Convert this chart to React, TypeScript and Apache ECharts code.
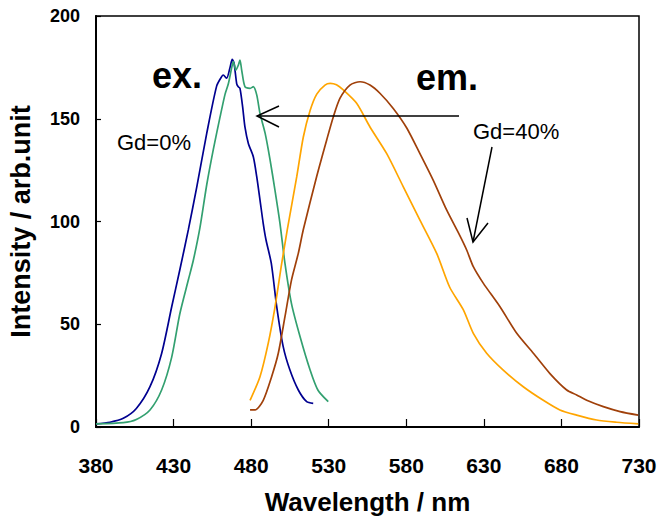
import React, { useEffect, useRef } from "react";
import * as echarts from "echarts";

const xTicks = [380, 430, 480, 530, 580, 630, 680, 730];

const exGd0: number[][] = [
  [380, 1.5], [389, 2.3], [397.6, 4.2], [406, 9], [414.8, 19.6], [422.3, 35.8], [428.8, 58.5],
  [434, 76.4], [439.5, 95.9], [445, 117], [451.4, 143], [457.8, 166], [461, 170.5], [462, 171.3],
  [464.2, 169.7], [466.4, 175], [467.8, 178.9], [469, 177], [470.7, 167], [471.7, 165.6],
  [472.8, 164.8], [474.5, 155.9], [476, 146], [478.2, 138], [481.4, 131.5], [483.6, 121.8],
  [485.7, 110.5], [487.8, 99], [489.6, 91], [493, 79.6], [496.5, 58.5], [500.7, 39], [505, 27.7],
  [510.4, 18], [515.8, 12.3], [520, 11.5],
];

const exGd40: number[][] = [
  [380, 1.5], [397.6, 2.1], [406, 3.7], [414.8, 8.3], [422.3, 18], [428.8, 34], [434, 55],
  [439.5, 71.5], [442.7, 81], [447, 97], [451.4, 118], [455.6, 135], [460, 151], [463.2, 162],
  [465.3, 167], [467.5, 175], [468.5, 177.8], [470.2, 173.7], [471.7, 176], [472.8, 178.6],
  [473.9, 173.7], [476, 165.6], [479.3, 164.8], [481.4, 165.6], [483.6, 161.6], [485.7, 152.6],
  [489, 143], [492.2, 130], [495.4, 115], [498.6, 99], [501.8, 79.6], [506, 60], [511.5, 44],
  [518, 27.7], [523, 18], [529.7, 12.3],
];

const emGd0: number[][] = [
  [479.3, 13], [485.7, 24.5], [491, 40.7], [495.4, 58.5], [499.7, 79.6], [503.3, 96],
  [509.4, 121.8], [513.6, 141], [518, 154], [522.3, 162], [527.6, 166.4], [531, 167.2],
  [535, 166.5], [539.4, 164], [548, 157.5], [556.6, 146], [567.4, 133], [578, 117],
  [588.8, 100.7], [599.6, 84.5], [608, 68], [616.8, 57], [623.2, 45.6], [631.8, 35.9],
  [642.5, 27.7], [655.4, 19.6], [668.3, 13], [679, 8.3], [689.8, 5.8], [702.7, 3.4],
  [715.6, 2.3], [729.5, 1.5],
];

const emGd40: number[][] = [
  [479.3, 8.3], [482.5, 8.3], [487.8, 13], [493.2, 24.5], [497.5, 35.9], [501.8, 53.7],
  [506, 71.5], [510.4, 84.5], [513.6, 96], [522.2, 121.8], [528.7, 139.7], [533, 151],
  [537.3, 160], [543.7, 166.4], [550.2, 168], [556.6, 166.4], [563, 162.4], [571.6, 155],
  [580.3, 145.5], [588.8, 133], [597.4, 120], [606, 105.6], [614.6, 93], [619, 86],
  [623.2, 78], [629.6, 70], [640.4, 58.5], [651.2, 45.6], [661.9, 35.9], [672.6, 26],
  [683.4, 18], [689.8, 15.6], [696.3, 13], [707, 9.9], [717.8, 7.5], [729.5, 5.8],
];

const FONT = "'Liberation Sans', Arial, sans-serif";

export default function App() {
  const ref = useRef<HTMLDivElement>(null);
  useEffect(() => {
    document.body.style.margin = "0";
    const chart = echarts.init(ref.current!, null, { renderer: "svg" });
    const mk = (name: string, data: number[][], color: string) => ({
      name,
      type: "line",
      data,
      showSymbol: false,
      symbol: "none",
      smooth: 0.25,
      lineStyle: { color, width: 1.7 },
      z: 3,
    });
    const arrowStyle = { stroke: "#000", lineWidth: 1.5, fill: null };
    chart.setOption({
      animation: false,
      backgroundColor: "#fff",
      grid: {
        left: 96, right: 20, top: 16, bottom: 90,
        outerBoundsMode: "none",
        containLabel: false,
        show: true, borderColor: "#000", borderWidth: 1.5,
      },
      xAxis: {
        type: "value", min: 380, max: 730,
        name: "Wavelength / nm", nameLocation: "middle", nameGap: 62,
        nameTextStyle: { fontFamily: FONT, fontWeight: "bold", fontSize: 26, color: "#000" },
        axisLine: { lineStyle: { color: "#000", width: 2 } },
        axisTick: { inside: true, length: 8, customValues: xTicks, lineStyle: { color: "#000", width: 1.2 } },
        axisLabel: { customValues: xTicks, margin: 28, fontFamily: FONT, fontWeight: "bold", fontSize: 21, color: "#000" },
        splitLine: { show: false },
      },
      yAxis: {
        type: "value", min: 0, max: 200, interval: 50,
        name: "Intensity / arb.unit", nameLocation: "middle", nameGap: 62,
        nameTextStyle: { fontFamily: FONT, fontWeight: "bold", fontSize: 27, color: "#000" },
        axisLine: { show: true, lineStyle: { color: "#000", width: 2 } },
        axisTick: { show: true, inside: true, length: 5, lineStyle: { color: "#000", width: 1.2 } },
        axisLabel: { margin: 16, fontFamily: FONT, fontWeight: "bold", fontSize: 18, color: "#000" },
        splitLine: { show: false },
      },
      series: [
        mk("ex Gd=0%", exGd0, "#000090"),
        mk("ex Gd=40%", exGd40, "#33A070"),
        mk("em Gd=0%", emGd0, "#FFA500"),
        mk("em Gd=40%", emGd40, "#A0400A"),
      ],
      graphic: [
        { type: "text", x: 177, y: 75, style: { text: "ex.", fontFamily: FONT, fontWeight: "bold", fontSize: 36, fill: "#000", textAlign: "center", textVerticalAlign: "middle" } },
        { type: "text", x: 447, y: 77, style: { text: "em.", fontFamily: FONT, fontWeight: "bold", fontSize: 36, fill: "#000", textAlign: "center", textVerticalAlign: "middle" } },
        { type: "text", x: 117, y: 142.5, style: { text: "Gd=0%", fontFamily: FONT, fontSize: 22, fill: "#000", textAlign: "left", textVerticalAlign: "middle" } },
        { type: "text", x: 473, y: 131, style: { text: "Gd=40%", fontFamily: FONT, fontSize: 22, fill: "#000", textAlign: "left", textVerticalAlign: "middle" } },
        { type: "line", shape: { x1: 459, y1: 116, x2: 257, y2: 116 }, style: arrowStyle, z: 10 },
        { type: "polyline", shape: { points: [[279, 106], [257, 116], [279, 127]] }, style: arrowStyle, z: 10 },
        { type: "line", shape: { x1: 492, y1: 147, x2: 473, y2: 242 }, style: arrowStyle, z: 10 },
        { type: "polyline", shape: { points: [[467, 218], [473, 242], [488, 223]] }, style: arrowStyle, z: 10 },
      ],
    });
    return () => chart.dispose();
  }, []);
  return <div ref={ref} style={{ position: "fixed", left: 0, top: 0, width: 659, height: 517 }} />;
}
